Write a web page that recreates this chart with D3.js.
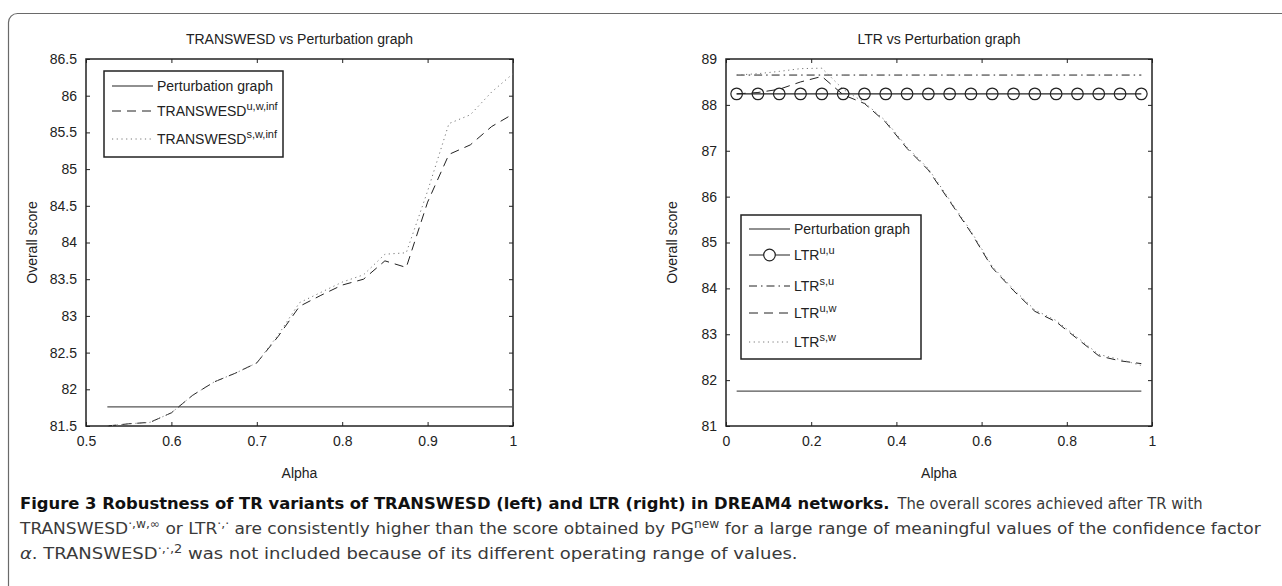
<!DOCTYPE html>
<html>
<head>
<meta charset="utf-8">
<script src="https://cdn.jsdelivr.net/npm/d3@7"></script>
<style>
  body { margin: 0; background: #fff; }
  svg text { font-family: "Liberation Sans", Arial, sans-serif; fill: #222; }
  .cap { font-family: "DejaVu Sans Condensed", "Noto Sans", sans-serif; font-size: 16px; fill: #3a3a3a; }
</style>
</head>
<body>
<svg id="fig" width="1282" height="586"></svg>
<script>
// left panel: TRANSWESD vs perturbation graph
const alphaLeft = [0.525, 0.55, 0.575, 0.6, 0.625, 0.65, 0.675, 0.7, 0.725, 0.75,
                   0.775, 0.8, 0.825, 0.85, 0.875, 0.9, 0.925, 0.95, 0.975, 1.0];
const pgLeft = [81.76, 81.76];
const transUW = [81.50, 81.53, 81.55, 81.68, 81.92, 82.10, 82.22, 82.36, 82.72, 83.13,
                 83.28, 83.42, 83.50, 83.75, 83.66, 84.55, 85.20, 85.33, 85.58, 85.75];
const transSW = [81.50, 81.53, 81.55, 81.68, 81.92, 82.10, 82.22, 82.36, 82.74, 83.18,
                 83.32, 83.46, 83.56, 83.84, 83.86, 84.70, 85.62, 85.74, 86.05, 86.30];
const xTicksLeft = [0.5, 0.6, 0.7, 0.8, 0.9, 1];
const yTicksLeft = [81.5, 82, 82.5, 83, 83.5, 84, 84.5, 85, 85.5, 86, 86.5];

// right panel: LTR vs perturbation graph
const alphaRight = [0.025, 0.075, 0.125, 0.175, 0.225, 0.275, 0.325, 0.375, 0.425, 0.475,
                    0.525, 0.575, 0.625, 0.675, 0.725, 0.775, 0.825, 0.875, 0.925, 0.975];
const pgRight = [81.76, 81.76];
const ltrUU = [88.24, 88.24, 88.24, 88.24, 88.24, 88.24, 88.24, 88.24, 88.24, 88.24,
               88.24, 88.24, 88.24, 88.24, 88.24, 88.24, 88.24, 88.24, 88.24, 88.24];
const ltrSU = [88.65, 88.65, 88.65, 88.65, 88.65, 88.65, 88.65, 88.65, 88.65, 88.65,
               88.65, 88.65, 88.65, 88.65, 88.65, 88.65, 88.65, 88.65, 88.65, 88.65];
const ltrUW = [88.24, 88.27, 88.34, 88.50, 88.62, 88.22, 88.03, 87.62, 87.05, 86.58,
               85.90, 85.22, 84.45, 83.95, 83.50, 83.27, 82.90, 82.53, 82.42, 82.36];
const ltrSW = [88.65, 88.68, 88.73, 88.79, 88.80, 88.34, 88.05, 87.65, 87.08, 86.61,
               85.93, 85.25, 84.48, 83.98, 83.53, 83.30, 82.93, 82.56, 82.45, 82.32];
const xTicksRight = [0, 0.2, 0.4, 0.6, 0.8, 1];
const yTicksRight = [81, 82, 83, 84, 85, 86, 87, 88, 89];

const styles = {
    pg:  {stroke: '#555', dash: null, width: 1.3},
    dash: {stroke: '#222', dash: '9,6', width: 1},
    dot: {stroke: '#777', dash: '1.2,3.5', width: 1},
    dashdot: {stroke: '#222', dash: '8,4,1.5,4', width: 1},
    solid: {stroke: '#222', dash: null, width: 1.2}
};

const svg = d3.select('#fig');

// card outline
svg.append('rect')
    .attr('x', 8.5).attr('y', 13.5)
    .attr('width', 1300).attr('height', 620)
    .attr('rx', 9)
    .attr('fill', 'none')
    .attr('stroke', '#6a6a6a')
    .attr('stroke-width', 1.2);

function panel(opt) {
    const x = d3.scaleLinear().domain(opt.xDomain).range([opt.left, opt.right]);
    const y = d3.scaleLinear().domain(opt.yDomain).range([opt.bottom, opt.top]);
    const g = svg.append('g');

    // axes with inward ticks on all four sides
    g.append('g').attr('transform', `translate(0,${opt.bottom})`)
        .call(d3.axisBottom(x).tickValues(opt.xTicks).tickSizeInner(-4).tickSizeOuter(0).tickPadding(10).tickFormat(d3.format('~g')));
    g.append('g').attr('transform', `translate(0,${opt.top})`)
        .call(d3.axisTop(x).tickValues(opt.xTicks).tickSizeInner(-4).tickSizeOuter(0).tickFormat(''));
    g.append('g').attr('transform', `translate(${opt.left},0)`)
        .call(d3.axisLeft(y).tickValues(opt.yTicks).tickSizeInner(-4).tickSizeOuter(0).tickPadding(9).tickFormat(d3.format('~g')));
    g.append('g').attr('transform', `translate(${opt.right},0)`)
        .call(d3.axisRight(y).tickValues(opt.yTicks).tickSizeInner(-4).tickSizeOuter(0).tickFormat(''));
    g.selectAll('.domain').remove();
    g.selectAll('.tick line').attr('stroke', '#222');
    g.selectAll('.tick text').attr('font-size', 14).attr('fill', '#222');

    g.append('rect')
        .attr('x', opt.left).attr('y', opt.top)
        .attr('width', opt.right - opt.left).attr('height', opt.bottom - opt.top)
        .attr('fill', 'none').attr('stroke', '#222').attr('stroke-width', 1.5);

    g.append('text')
        .attr('x', (opt.left + opt.right) / 2).attr('y', opt.top - 15)
        .attr('text-anchor', 'middle').attr('font-size', 14)
        .text(opt.title);
    g.append('text')
        .attr('x', (opt.left + opt.right) / 2).attr('y', opt.bottom + 52)
        .attr('text-anchor', 'middle').attr('font-size', 14)
        .text('Alpha');
    g.append('text')
        .attr('transform', `translate(${opt.left - 49},${(opt.top + opt.bottom) / 2}) rotate(-90)`)
        .attr('text-anchor', 'middle').attr('font-size', 14)
        .text('Overall score');

    const line = d3.line().x(d => x(d[0])).y(d => y(d[1]));
    opt.series.forEach(s => {
        const st = styles[s.style];
        const pts = s.xs.map((a, i) => [a, s.ys[i]]);
        g.append('path')
            .attr('d', line(pts))
            .attr('fill', 'none')
            .attr('stroke', st.stroke)
            .attr('stroke-width', st.width)
            .attr('stroke-dasharray', st.dash);
        if (s.marker) {
            g.selectAll(null).data(pts).enter().append('circle')
                .attr('cx', d => x(d[0])).attr('cy', d => y(d[1]))
                .attr('r', 5.8)
                .attr('fill', 'none').attr('stroke', '#222').attr('stroke-width', 1.2);
        }
    });

    // legend
    const lg = opt.legend;
    g.append('rect')
        .attr('x', lg.x).attr('y', lg.y)
        .attr('width', lg.w).attr('height', lg.h)
        .attr('fill', '#fff').attr('stroke', '#222').attr('stroke-width', 1.5);
    lg.items.forEach((it, i) => {
        const cy = lg.y + lg.rows[i];
        const st = styles[it.style];
        g.append('line')
            .attr('x1', lg.x + 8).attr('x2', lg.x + 49)
            .attr('y1', cy).attr('y2', cy)
            .attr('stroke', st.stroke).attr('stroke-width', st.width)
            .attr('stroke-dasharray', st.dash);
        if (it.marker) {
            g.append('circle').attr('cx', lg.x + 28.5).attr('cy', cy).attr('r', 5.8)
                .attr('fill', '#fff').attr('stroke', '#222').attr('stroke-width', 1.2);
        }
        const t = g.append('text').attr('x', lg.x + 53).attr('y', cy + 5).attr('font-size', 14);
        t.append('tspan').text(it.name);
        if (it.sup) t.append('tspan').attr('dy', -6).attr('font-size', 11).text(it.sup);
    });
}

panel({
    left: 86, right: 513, top: 59, bottom: 426,
    xDomain: [0.5, 1], yDomain: [81.5, 86.5],
    xTicks: xTicksLeft, yTicks: yTicksLeft,
    title: 'TRANSWESD vs Perturbation graph',
    series: [
        {xs: [alphaLeft[0], alphaLeft[alphaLeft.length - 1]], ys: pgLeft, style: 'pg'},
        {xs: alphaLeft, ys: transUW, style: 'dash'},
        {xs: alphaLeft, ys: transSW, style: 'dot'}
    ],
    legend: {
        x: 104, y: 71, w: 179, h: 86, rows: [15, 40, 68],
        items: [
            {name: 'Perturbation graph', style: 'solid'},
            {name: 'TRANSWESD', sup: 'u,w,inf', style: 'dash'},
            {name: 'TRANSWESD', sup: 's,w,inf', style: 'dot'}
        ]
    }
});

panel({
    left: 726, right: 1152, top: 59, bottom: 426,
    xDomain: [0, 1], yDomain: [81, 89],
    xTicks: xTicksRight, yTicks: yTicksRight,
    title: 'LTR vs Perturbation graph',
    series: [
        {xs: [alphaRight[0], alphaRight[alphaRight.length - 1]], ys: pgRight, style: 'pg'},
        {xs: alphaRight, ys: ltrSU, style: 'dashdot'},
        {xs: alphaRight, ys: ltrUW, style: 'dash'},
        {xs: alphaRight, ys: ltrSW, style: 'dot'},
        {xs: alphaRight, ys: ltrUU, style: 'solid', marker: true}
    ],
    legend: {
        x: 741, y: 215, w: 180, h: 144, rows: [14, 40, 71, 98, 127],
        items: [
            {name: 'Perturbation graph', style: 'solid'},
            {name: 'LTR', sup: 'u,u', style: 'solid', marker: true},
            {name: 'LTR', sup: 's,u', style: 'dashdot'},
            {name: 'LTR', sup: 'u,w', style: 'dash'},
            {name: 'LTR', sup: 's,w', style: 'dot'}
        ]
    }
});

// caption: the figure's font is condensed, so text is squeezed horizontally
const capX = 20;
function capText(x, y, parts) {
    const t = svg.append('text').attr('class', 'cap').attr('x', x).attr('y', y);
    parts.forEach(p => {
        const s = t.append('tspan').text(p.text);
        if (p.bold) s.attr('font-weight', 'bold').style('fill', '#111');
        if (p.italic) s.attr('font-style', 'italic');
        if (p.sup) s.attr('dy', -6).attr('font-size', 11.5);
        if (p.down) s.attr('dy', 6);
    });
    return t;
}
function fitTo(t, x0, x1) {
    const sx = (x1 - x0) / t.node().getComputedTextLength();
    t.attr('transform', `translate(${x0},0) scale(${sx},1) translate(${-x0},0)`);
    return sx;
}

// line 2 spans the full width; the other lines are placed against its words
const line2 = capText(capX, 534, [
    {text: 'TRANSWESD'},
    {text: '·,w,∞', sup: true},
    {text: ' or LTR', down: true},
    {text: '·,·', sup: true},
    {text: ' are consistently higher than the score obtained by PG', down: true},
    {text: 'new', sup: true},
    {text: ' for a large range of meaningful values of the confidence factor', down: true}
]);
const sx2 = fitTo(line2, capX, 1262);
const lastSpan = line2.selectAll('tspan').nodes().pop();
const nLast = lastSpan.getNumberOfChars();
const forX = capX + (lastSpan.getStartPositionOfChar(1).x - capX) * sx2;
const endX = capX + (lastSpan.getEndPositionOfChar(nLast - 1).x - capX) * sx2;
const unit = (endX - forX) / (nLast - 1);

const lead = capText(capX, 509, [
    {text: 'Figure 3 Robustness of TR variants of TRANSWESD (left) and LTR (right) in DREAM4 networks.', bold: true}
]);
fitTo(lead, capX, forX + 19.5 * unit);

const tailStart = forX + 20.3 * unit;
const tail = capText(tailStart, 509, [{text: 'The overall scores achieved after TR with'}]);
fitTo(tail, tailStart, forX + 56.2 * unit);

const line3 = capText(capX, 559, [
    {text: 'α', italic: true},
    {text: '. TRANSWESD'},
    {text: '·,·,2', sup: true},
    {text: ' was not included because of its different operating range of values.', down: true}
]);
fitTo(line3, capX, forX + 8.6 * unit);
</script>
</body>
</html>
